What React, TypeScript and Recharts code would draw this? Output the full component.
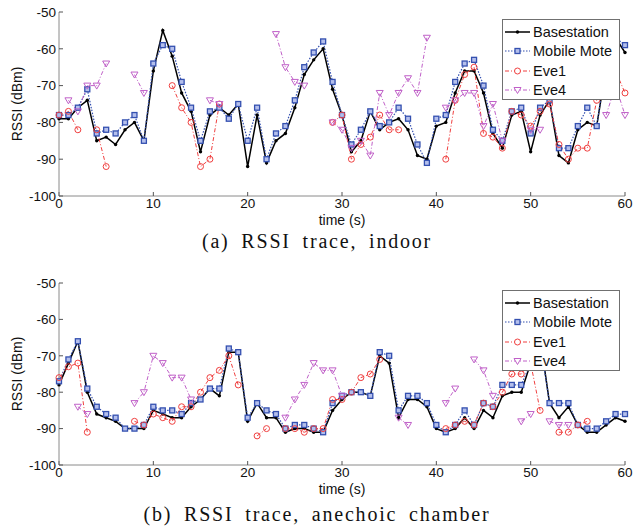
import React from "react";
import { LineChart, Line, XAxis, YAxis, Legend } from "recharts";

// seconds
const times = [
  0, 1, 2, 3, 4, 5, 6, 7, 8, 9, 10, 11, 12, 13, 14, 15, 16, 17, 18, 19, 20,
  21, 22, 23, 24, 25, 26, 27, 28, 29, 30, 31, 32, 33, 34, 35, 36, 37, 38, 39, 40,
  41, 42, 43, 44, 45, 46, 47, 48, 49, 50, 51, 52, 53, 54, 55, 56, 57, 58, 59, 60,
];
const xTicks = [0, 10, 20, 30, 40, 50, 60];
const yTicks = [-100, -90, -80, -70, -60, -50];

// (a) indoor
const baseIndoor = [
  -79, -79, -76, -74, -85, -84, -86, -82, -80, -85, -66, -55, -62, -72, -77, -88, -78, -76, -78, -75, -92,
  -78, -91, -85, -83, -76, -67, -63, -60, -71, -78, -88, -85, -77, -82, -80, -79, -82, -89, -90, -81,
  -80, -72, -66, -66, -72, -83, -87, -78, -77, -88, -78, -74, -89, -91, -82, -80, -81, -65, -57, -61,
];
const moteIndoor = [
  -78, -78, -76, -71, -83, -82, -83, -80, -78, -85, -64, -59, -60, -69, -76, -85, -77, -76, -79, -75, -85,
  -76, -90, -83, -81, -74, -65, -61, -58, -69, -78, -86, -82, -77, -81, -80, -76, -79, -86, -91, -79,
  -78, -69, -64, -63, -70, -82, -85, -77, -76, -83, -76, -74, -87, -87, -81, -76, -81, -64, -57, -59,
];
const eve1Indoor = [
  -78, -77, -82, null, -82, -92, null, null, null, null, null, null, -70, -76, -80, -92, -90, -75, null, null, null,
  null, null, null, null, null, null, null, null, -80, -78, -90, -86, -84, -78, -82, -82, null, null, null, null,
  -90, -74, -67, -65, -83, -84, -87, -77, -78, -81, -77, -75, -86, -90, -87, -87, -74, -70, -66, -72,
];
const eve4Indoor = [
  null, -74, -77, -70, -70, -64, null, null, -67, -72, null, null, null, null, null, null, -74, -75, null, null, null,
  null, null, -56, -65, -69, -70, null, null, -80, -82, -87, -85, -89, -72, -78, -72, -68, -72, -57, null,
  -76, -74, -72, -72, -81, -75, -85, null, null, -82, -82, null, null, null, null, null, null, -78, -70, -78,
];

// (b) anechoic chamber
const baseChamber = [
  -78, -72, -66, -80, -86, -87, -88, -90, -90, -90, -85, -86, -87, -87, -84, -82, -79, -81, -69, -69, -88,
  -83, -87, -87, -91, -90, -90, -91, -91, -85, -82, -80, -80, -81, -70, -72, -87, -82, -82, -84, -90,
  -91, -90, -87, -90, -85, -87, -81, -80, -80, -72, -65, -83, -87, -84, -89, -91, -91, -89, -87, -88,
];
const moteChamber = [
  -77, -71, -66, -79, -84, -86, -87, -90, -90, -89, -84, -85, -85, -86, -83, -82, -79, -79, -68, -69, -87,
  -83, -85, -86, -90, -89, -89, -90, -91, -83, -81, -80, -80, -81, -69, -70, -85, -81, -81, -83, -89,
  -91, -89, -85, -89, -83, -84, -78, -78, -78, -72, -66, -83, -83, -83, -89, -90, -90, -88, -86, -86,
];
const eve1Chamber = [
  -76, -73, -72, -91, null, null, null, null, -88, -89, -86, -87, -88, -84, -84, -80, -76, -74, -70, -78, null,
  -92, -90, null, -90, -90, -91, -90, -90, -82, -82, -80, -76, -75, -71, null, null, null, null, null, null,
  -90, -89, -88, -89, -83, -84, -80, -75, -75, -72, -85, null, -91, -91, -89, -88, null, null, null, null,
];
const eve4Chamber = [
  null, null, -84, -86, null, null, null, null, -83, -80, -70, -72, -76, -76, -82, null, null, null, null, null, null,
  null, null, null, -87, -82, -78, -72, -74, -74, -81, null, null, null, null, null, -87, -89, null, null, null,
  -83, -79, null, -71, -74, -81, null, null, -88, -86, null, -88, -89, -89, null, null, null, null, null, null,
];

const C_BASE = "#000000";
const C_MOTE = "#3450b0";
const C_EVE1 = "#f04040";
const C_EVE4 = "#c060c8";
const MOTE_FILL = "#b4bfec";

const sans = "'Liberation Sans', Arial, Helvetica, sans-serif";
const serif = "'Liberation Serif', 'Times New Roman', serif";

function makeRows(base: any[], mote: any[], eve1: any[], eve4: any[]) {
  return times.map((t, i) => ({ t, base: base[i], mote: mote[i], eve1: eve1[i], eve4: eve4[i] }));
}

const hidden = (p: any) => p.cy == null || p.value == null || Number.isNaN(p.cy);

const BaseDot = (p: any) =>
  hidden(p) ? <g key={`b${p.index}`} /> : <circle key={`b${p.index}`} cx={p.cx} cy={p.cy} r={1.7} fill={C_BASE} />;

const MoteDot = (p: any) =>
  hidden(p) ? (
    <g key={`m${p.index}`} />
  ) : (
    <rect key={`m${p.index}`} x={p.cx - 2.5} y={p.cy - 2.5} width={5} height={5} fill={MOTE_FILL} stroke={C_MOTE} strokeWidth={1.3} />
  );

const Eve1Dot = (p: any) =>
  hidden(p) ? (
    <g key={`e${p.index}`} />
  ) : (
    <circle key={`e${p.index}`} cx={p.cx} cy={p.cy} r={3} fill="none" stroke={C_EVE1} strokeWidth={1} />
  );

const Eve4Dot = (p: any) =>
  hidden(p) ? (
    <g key={`f${p.index}`} />
  ) : (
    <path
      key={`f${p.index}`}
      d={`M${p.cx - 3.5},${p.cy - 2.5} L${p.cx + 3.5},${p.cy - 2.5} L${p.cx},${p.cy + 3.5} Z`}
      fill="none"
      stroke={C_EVE4}
      strokeWidth={1}
    />
  );

const legendItems = [
  { name: "Basestation", color: C_BASE, dash: undefined, width: 1.5, mark: "dot" },
  { name: "Mobile Mote", color: C_MOTE, dash: "1.5 1.5", width: 1.2, mark: "square" },
  { name: "Eve1", color: C_EVE1, dash: "4 2 1 2", width: 1, mark: "circle" },
  { name: "Eve4", color: C_EVE4, dash: "4 2 1 2", width: 1, mark: "tri" },
];

function LegendBox() {
  return (
    <div
      style={{
        background: "#fff",
        border: "1px solid #707070",
        boxSizing: "border-box",
        width: 118,
        height: 81,
        paddingTop: 2,
        fontFamily: sans,
        fontSize: 14.5,
        color: "#111",
      }}
    >
      {legendItems.map((it) => (
        <div key={it.name} style={{ display: "flex", alignItems: "center", height: 19.5, whiteSpace: "nowrap" }}>
          <svg width={30} height={12} style={{ flex: "none" }}>
            <line x1={2} y1={6} x2={27} y2={6} stroke={it.color} strokeWidth={it.width} strokeDasharray={it.dash} />
            {it.mark === "dot" && <circle cx={14.5} cy={6} r={1.7} fill={it.color} />}
            {it.mark === "square" && (
              <rect x={12} y={3.5} width={5} height={5} fill={MOTE_FILL} stroke={it.color} strokeWidth={1.3} />
            )}
            {it.mark === "circle" && <circle cx={14.5} cy={6} r={3} fill="#fff" stroke={it.color} />}
            {it.mark === "tri" && <path d="M11,3.5 L18,3.5 L14.5,9.5 Z" fill="#fff" stroke={it.color} />}
          </svg>
          <span>{it.name}</span>
        </div>
      ))}
    </div>
  );
}

const YLabel = (props: any) => {
  const vb = props.viewBox || { x: 0, y: 0, height: 0 };
  const cx = 17;
  const cy = vb.y + vb.height / 2;
  return (
    <text
      x={cx}
      y={cy}
      transform={`rotate(-90 ${cx} ${cy})`}
      textAnchor="middle"
      dominantBaseline="central"
      fontFamily={sans}
      fontSize={14}
      fill="#111"
    >
      RSSI (dBm)
    </text>
  );
};

const tickStyle = { fontFamily: sans, fontSize: 13.5, fill: "#111" };
const axisStroke = "#8a8a8a";

function Panel({ rows, height }: { rows: any[]; height: number }) {
  return (
    <LineChart width={634} height={height} data={rows} margin={{ top: 12, right: 9, bottom: 0, left: 0 }}>
      <XAxis
        dataKey="t"
        type="number"
        domain={[0, 60]}
        ticks={xTicks}
        height={35}
        tickSize={-4}
        tickMargin={6}
        tick={tickStyle}
        stroke={axisStroke}
        tickLine={{ stroke: "#555" }}
        label={{ value: "time (s)", position: "insideBottom", offset: 6, fontFamily: sans, fontSize: 14, fill: "#111" }}
      />
      <XAxis
        xAxisId="top"
        dataKey="t"
        type="number"
        orientation="top"
        domain={[0, 60]}
        ticks={xTicks}
        height={0}
        tickSize={-4}
        tick={false}
        stroke={axisStroke}
        tickLine={{ stroke: "#555" }}
      />
      <YAxis
        type="number"
        domain={[-100, -50]}
        ticks={yTicks}
        width={59}
        tickSize={-4}
        tickMargin={7}
        tick={tickStyle}
        stroke={axisStroke}
        tickLine={{ stroke: "#555" }}
        label={YLabel}
      />
      <YAxis
        yAxisId="right"
        orientation="right"
        type="number"
        domain={[-100, -50]}
        ticks={yTicks}
        width={0}
        tickSize={-4}
        tick={false}
        stroke={axisStroke}
        tickLine={{ stroke: "#555" }}
      />
      <Line
        dataKey="base"
        stroke={C_BASE}
        strokeWidth={1.5}
        dot={BaseDot}
        activeDot={false}
        isAnimationActive={false}
      />
      <Line
        dataKey="mote"
        stroke={C_MOTE}
        strokeWidth={1.2}
        strokeDasharray="1.5 1.5"
        dot={MoteDot}
        activeDot={false}
        isAnimationActive={false}
      />
      <Line
        dataKey="eve1"
        stroke={C_EVE1}
        strokeWidth={1}
        strokeDasharray="4 2 1 2"
        dot={Eve1Dot}
        activeDot={false}
        isAnimationActive={false}
      />
      <Line
        dataKey="eve4"
        stroke={C_EVE4}
        strokeWidth={1}
        strokeDasharray="4 2 1 2"
        dot={Eve4Dot}
        activeDot={false}
        isAnimationActive={false}
      />
      <Legend
        layout="vertical"
        align="center"
        verticalAlign="middle"
        content={() => <LegendBox />}
        wrapperStyle={{ top: 19, left: 502, width: 118 }}
      />
    </LineChart>
  );
}

const captionStyle: React.CSSProperties = {
  position: "absolute",
  left: 0,
  width: 634,
  textAlign: "center",
  fontFamily: serif,
  fontSize: 20,
  letterSpacing: 1.8,
  wordSpacing: 5,
  color: "#111",
  lineHeight: "20px",
};

export default function App() {
  const indoor = makeRows(baseIndoor, moteIndoor, eve1Indoor, eve4Indoor);
  const chamber = makeRows(baseChamber, moteChamber, eve1Chamber, eve4Chamber);
  return (
    <div style={{ position: "absolute", left: 0, top: 0, width: 634, height: 531, background: "#fff", overflow: "hidden" }}>
      <div style={{ position: "absolute", left: 0, top: 0 }}>
        <Panel rows={indoor} height={231} />
      </div>
      <div style={{ ...captionStyle, top: 231 }}>(a) RSSI trace, indoor</div>
      <div style={{ position: "absolute", left: 0, top: 271 }}>
        <Panel rows={chamber} height={229} />
      </div>
      <div style={{ ...captionStyle, top: 504 }}>(b) RSSI trace, anechoic chamber</div>
    </div>
  );
}
